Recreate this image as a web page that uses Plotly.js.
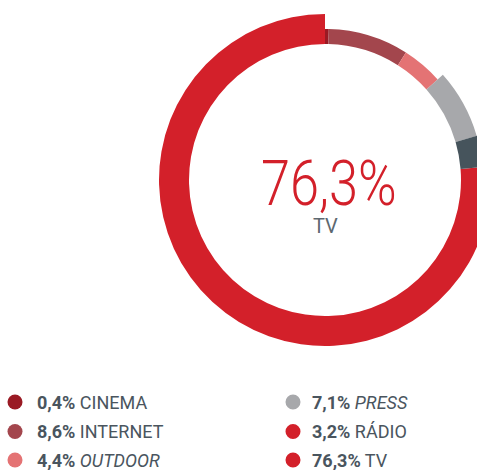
<!DOCTYPE html>
<html>
<head>
<meta charset="utf-8">
<script src="https://cdn.plot.ly/plotly-3.0.1.min.js"></script>
<style>
html,body{margin:0;padding:0;overflow:hidden;background:#fff;width:477px;height:470px;}
#chart{width:520px;height:470px;}
</style>
</head>
<body>
<div id="chart"></div>
<script>
// Data
const categories = ["CINEMA", "INTERNET", "OUTDOOR", "PRESS", "RÁDIO", "TV"];
const shares = [0.4, 8.6, 4.4, 7.1, 3.2, 76.3];
const shareLabels = ["0,4%", "8,6%", "4,4%", "7,1%", "3,2%", "76,3%"];
const sliceColors = ["#9a1a24", "#a3464d", "#e47374", "#a7a8ab", "#46545c", "#d3202a"];
const legendColors = ["#9a1a24", "#a3464d", "#e47374", "#a7a8ab", "#d3202a", "#d3202a"];
const italicLabels = [false, false, true, true, false, false];
const centerValue = "76,3%";
const centerLabel = "TV";

const W = 520, H = 470;
const CX = 325, CY = 180, INNER = 136;
// ring groups: outer radius per slice group
const rings = [
  {outer: 166, members: [5]},
  {outer: 151, members: [0, 1, 2]},
  {outer: 158, members: [3]},
  {outer: 162, members: [4]}
];

const traces = rings.map(r => ({
  type: "pie",
  values: shares,
  labels: categories,
  sort: false,
  direction: "clockwise",
  rotation: 0,
  hole: INNER / r.outer,
  textinfo: "none",
  hoverinfo: "skip",
  showlegend: false,
  marker: {
    colors: categories.map((c, i) => r.members.includes(i) ? sliceColors[i] : "rgba(0,0,0,0)"),
    line: {width: 0}
  },
  domain: {
    x: [(CX - r.outer) / W, (CX + r.outer) / W],
    y: [((H - CY) - r.outer) / H, ((H - CY) + r.outer) / H]
  }
}));

const textColor = "#4a555e";
const annotations = [
  {x: 329 / W, y: 1 - 183 / H, xref: "paper", yref: "paper", text: centerValue, showarrow: false,
   xanchor: "center", yanchor: "middle", font: {family: "Roboto, sans-serif", size: 63, weight: 300, color: "#d3202a"}},
  {x: CX / W, y: 1 - 226 / H, xref: "paper", yref: "paper", text: centerLabel, showarrow: false,
   xanchor: "center", yanchor: "middle", font: {family: "Roboto, sans-serif", size: 20, color: "#5d6870"}}
];
const shapes = [];
const colX = [[15, 35], [293, 310]];
const rowY = [402, 431.5, 460];
categories.forEach((c, i) => {
  const col = i < 3 ? 0 : 1;
  const row = i % 3;
  const name = italicLabels[i] ? "<i>" + c + "</i>" : c;
  annotations.push({
    x: colX[col][1] / W, y: 1 - rowY[row] / H, xref: "paper", yref: "paper",
    text: "<b>" + shareLabels[i] + "</b> " + name, showarrow: false,
    xanchor: "left", yanchor: "middle",
    font: {family: "Roboto, sans-serif", size: 18, color: textColor}
  });
  shapes.push({
    type: "circle", xref: "paper", yref: "paper",
    xsizemode: "pixel", ysizemode: "pixel",
    xanchor: colX[col][0] / W, yanchor: 1 - rowY[row] / H,
    x0: -7.5, x1: 7.5, y0: -7.5, y1: 7.5,
    fillcolor: legendColors[i], line: {width: 0}
  });
});

Plotly.newPlot("chart", traces, {
  width: W, height: H,
  margin: {l: 0, r: 0, t: 0, b: 0},
  paper_bgcolor: "#fff",
  showlegend: false,
  annotations: annotations,
  shapes: shapes
}, {displayModeBar: false, staticPlot: true}).then(gd => {
  // condense the big centre number horizontally (DIN-like narrow figures)
  const t = gd.querySelector(".annotation[data-index='0'] text");
  if (t) {
    t.style.transformBox = "fill-box";
    t.style.transformOrigin = "center";
    t.style.transform = "scaleX(0.83)";
  }
});
</script>
</body>
</html>
